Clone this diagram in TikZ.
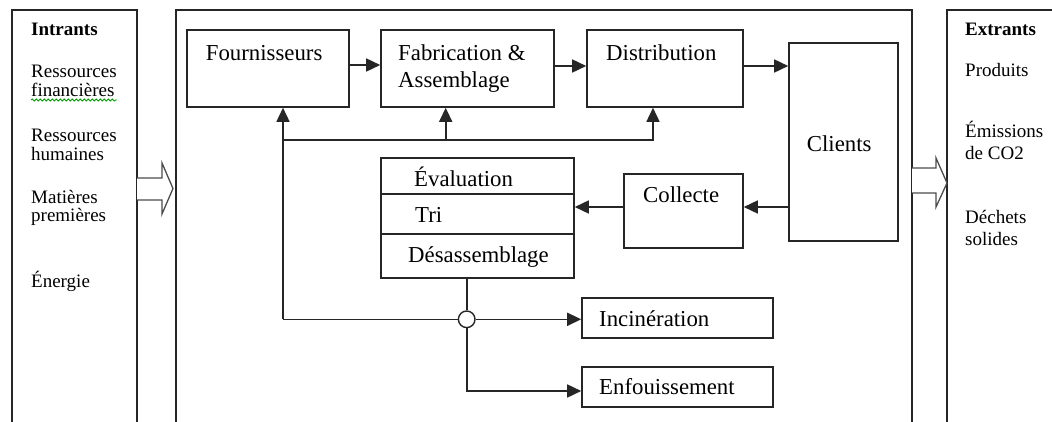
\documentclass[tikz,border=0pt]{standalone}
\usepackage{fontspec}
\setmainfont{Liberation Serif}
\usetikzlibrary{arrows.meta,decorations.pathmorphing}
\begin{document}
\begin{tikzpicture}[x=1pt,y=-1pt,
  frame/.style={draw=black!85, line width=1.9pt},
  box/.style={draw=black!85, line width=1.6pt, rectangle, inner sep=0pt},
  link/.style={draw=black!85, line width=1.6pt},
  arr/.style={link, -{Triangle[length=14pt,width=13pt]}},
  hollow/.style={draw=black!70, line width=1.3pt, fill=white},
  side/.style={anchor=base west, inner sep=0pt, font=\fontsize{19}{19}\selectfont},
  sidehead/.style={anchor=base west, inner sep=0pt, font=\fontsize{19}{19}\selectfont\bfseries},
  lbl/.style={anchor=base west, inner sep=0pt, font=\fontsize{22.8}{23}\selectfont}]

\useasboundingbox (0,0) rectangle (1052,422);
\clip (0,0) rectangle (1052,422);
\fill[white] (0,0) rectangle (1052,422);

% outer frames: inputs, process, outputs
\draw[frame] (12,440) -- (12,10) -- (137,10) -- (137,440);
\draw[frame] (176,440) -- (176,10) -- (912,10) -- (912,440);
\draw[frame] (947,440) -- (947,10) -- (1070,10);

% block arrows between frames
\draw[hollow] (137,178) -- (162,178) -- (162,163) -- (173,188.5) -- (162,214) -- (162,200) -- (137,200);
\draw[hollow] (912,168) -- (936,168) -- (936,158) -- (947,183) -- (936,207) -- (936,193) -- (912,193);

% inputs
\node[sidehead] (tin) at (31,36) {Intrants};
\node[side] (in1a) at (31,78) {Ressources};
\node[side] (in1b) at (31,97) {financières};
\draw[green!60!black, line width=0.8pt, decorate, decoration={snake, amplitude=1pt, segment length=4pt}] (in1b.base west) ++(0,3) -- ++(86,0);
\node[side] (in2a) at (31,142) {Ressources};
\node[side] (in2b) at (31,161) {humaines};
\node[side] (in3a) at (31,204) {Matières};
\node[side] (in3b) at (31,222) {premières};
\node[side] (in4) at (31,287) {Énergie};

% outputs
\node[sidehead] (tout) at (965,36) {Extrants};
\node[side] (out1) at (965,77) {Produits};
\node[side] (out2a) at (965,138) {Émissions};
\node[side] (out2b) at (965,160) {de CO2};
\node[side] (out3a) at (965,223) {Déchets};
\node[side] (out3b) at (965,246) {solides};

% process boxes
\node[box, minimum width=162pt, minimum height=77pt] (four) at (268,68.5) {};
\node[box, minimum width=173pt, minimum height=77pt] (fab) at (467.5,68.5) {};
\node[box, minimum width=156pt, minimum height=77pt] (dist) at (665,68.5) {};
\node[box, minimum width=109pt, minimum height=198pt] (cli) at (843.5,142) {};
\node[box, minimum width=119pt, minimum height=74pt] (coll) at (683.5,211) {};
\node[box, minimum width=193pt, minimum height=120pt] (stack) at (477.5,218) {};
\node[box, minimum width=191pt, minimum height=40pt] (inc) at (677.5,318) {};
\node[box, minimum width=191pt, minimum height=40pt] (enf) at (677.5,387) {};
\draw[link] (stack.west |- 0,194) -- (stack.east |- 0,194);
\draw[link] (stack.west |- 0,234) -- (stack.east |- 0,234);

% box labels
\node[lbl] (tfour) at (205.7,61) {Fournisseurs};
\node[lbl] (tfab1) at (398,61) {Fabrication \&};
\node[lbl] (tfab2) at (398,88) {Assemblage};
\node[lbl] (tdist) at (606,61) {Distribution};
\node[lbl] (tcli) at (806.7,151.7) {Clients};
\node[lbl] (tcoll) at (643,202.7) {Collecte};
\node[lbl] (teval) at (414,186.7) {Évaluation};
\node[lbl] (ttri) at (415,222.7) {Tri};
\node[lbl] (tdes) at (408,262.7) {Désassemblage};
\node[lbl] (tinc) at (599,326.7) {Incinération};
\node[lbl] (tenf) at (599,394) {Enfouissement};

% forward flow
\draw[arr] (four.east |- 0,65) -- (fab.west |- 0,65);
\draw[arr] (fab.east |- 0,66) -- (dist.west |- 0,66);
\draw[arr] (dist.east |- 0,66) -- (cli.west |- 0,66);
\draw[arr] (cli.west |- 0,207) -- (coll.east |- 0,207);
\draw[arr] (coll.west |- 0,207) -- (stack.east |- 0,207);

% junction and reverse flow
\node[circle, draw=black!85, line width=1.4pt, fill=white, minimum size=16.6pt, inner sep=0pt] (junc) at (466.7,319.3) {};
\coordinate (fb) at (283,319.3);
\coordinate (bus) at (283,140);
\coordinate (busend) at (653,140);
\coordinate (fabup) at (445.7,140);
\coordinate (enfturn) at (466.7,391);
\draw[link] (junc.north |- stack.south) -- (junc.north);
\draw[link] (junc.west) -- (fb);
\draw[arr] (fb) -- (fb |- four.south);
\draw[arr] (bus) -- (busend) -- (busend |- dist.south);
\draw[arr] (fabup) -- (fabup |- fab.south);
\draw[arr] (junc.east) -- (inc.west |- junc.east);
\draw[arr] (junc.south) -- (enfturn) -- (enf.west |- enfturn);
\end{tikzpicture}
\end{document}
